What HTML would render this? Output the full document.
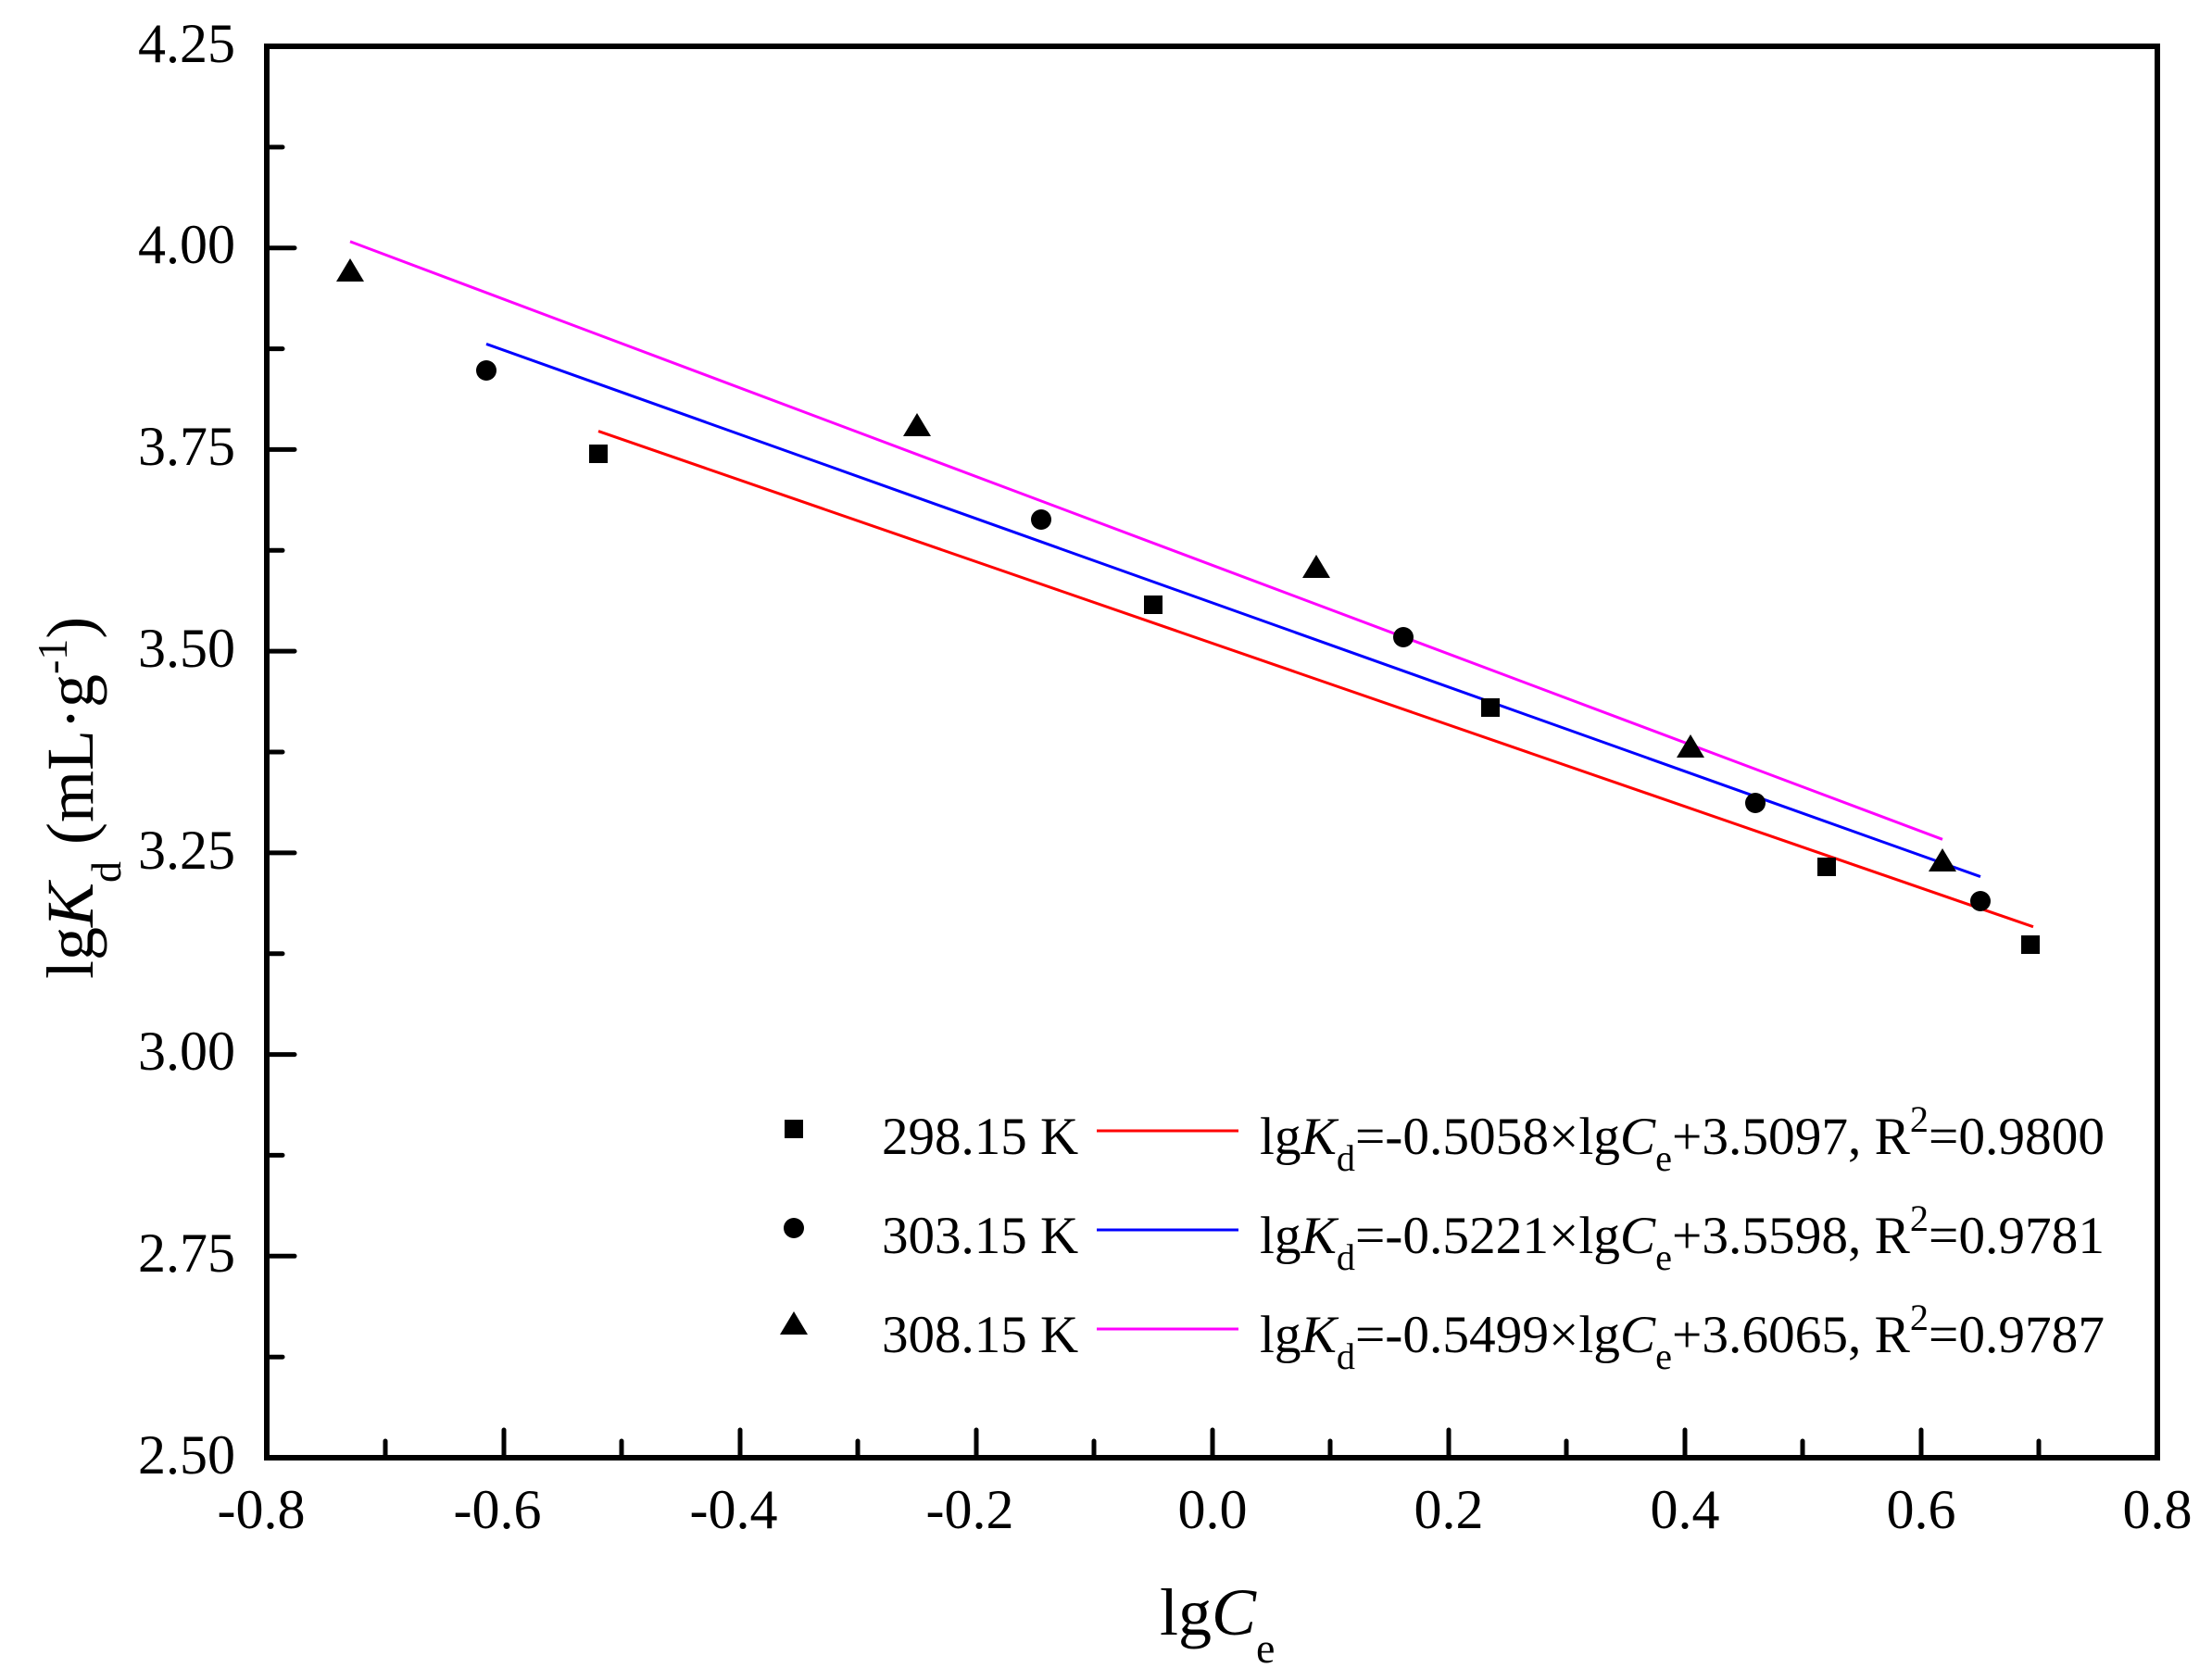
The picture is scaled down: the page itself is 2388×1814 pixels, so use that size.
<!DOCTYPE html>
<html><head><meta charset="utf-8"><style>html,body{margin:0;padding:0;background:#fff}svg{display:block}</style></head>
<body>
<svg width="2388" height="1814" viewBox="0 0 2388 1814" xmlns="http://www.w3.org/2000/svg" font-family="Liberation Serif, serif">
<rect width="2388" height="1814" fill="#fff"/>
<line x1="646" y1="465.6" x2="2195" y2="1000.7" stroke="#ff0000" stroke-width="3"/>
<line x1="525" y1="371.4" x2="2138" y2="946.6" stroke="#0000ff" stroke-width="3"/>
<line x1="378" y1="260.8" x2="2097" y2="906.3" stroke="#ff00ff" stroke-width="3"/>
<g fill="#000">
<rect x="636" y="480" width="20" height="20"/>
<rect x="1235" y="643" width="20" height="20"/>
<rect x="1599" y="754" width="20" height="20"/>
<rect x="1962" y="926" width="20" height="20"/>
<rect x="2182" y="1010" width="20" height="20"/>
<circle cx="525" cy="400" r="11"/>
<circle cx="1124" cy="561" r="11"/>
<circle cx="1515" cy="688" r="11"/>
<circle cx="1895" cy="867" r="11"/>
<circle cx="2138" cy="973" r="11"/>
<polygon points="378,279 393,304 363,304"/>
<polygon points="990,446 1005,471 975,471"/>
<polygon points="1421,599 1436,624 1406,624"/>
<polygon points="1825,793 1840,818 1810,818"/>
<polygon points="2097,916 2112,941 2082,941"/>
</g>
<rect x="288" y="50" width="2041" height="1524" fill="none" stroke="#000" stroke-width="6"/>
<g stroke="#000" stroke-width="5" stroke-linecap="round">
<line x1="288" y1="267.7" x2="318" y2="267.7"/><line x1="288" y1="485.4" x2="318" y2="485.4"/>
<line x1="288" y1="703.1" x2="318" y2="703.1"/><line x1="288" y1="920.9" x2="318" y2="920.9"/>
<line x1="288" y1="1138.6" x2="318" y2="1138.6"/><line x1="288" y1="1356.3" x2="318" y2="1356.3"/>
<line x1="288" y1="158.9" x2="305" y2="158.9"/><line x1="288" y1="376.6" x2="305" y2="376.6"/>
<line x1="288" y1="594.3" x2="305" y2="594.3"/><line x1="288" y1="812" x2="305" y2="812"/>
<line x1="288" y1="1029.7" x2="305" y2="1029.7"/><line x1="288" y1="1247.4" x2="305" y2="1247.4"/>
<line x1="288" y1="1465.2" x2="305" y2="1465.2"/>
<line x1="544" y1="1574" x2="544" y2="1544"/><line x1="799" y1="1574" x2="799" y2="1544"/>
<line x1="1054" y1="1574" x2="1054" y2="1544"/><line x1="1309" y1="1574" x2="1309" y2="1544"/>
<line x1="1564" y1="1574" x2="1564" y2="1544"/><line x1="1819" y1="1574" x2="1819" y2="1544"/>
<line x1="2074" y1="1574" x2="2074" y2="1544"/>
<line x1="416" y1="1574" x2="416" y2="1556"/><line x1="671" y1="1574" x2="671" y2="1556"/>
<line x1="926" y1="1574" x2="926" y2="1556"/><line x1="1181" y1="1574" x2="1181" y2="1556"/>
<line x1="1436" y1="1574" x2="1436" y2="1556"/><line x1="1691" y1="1574" x2="1691" y2="1556"/>
<line x1="1946" y1="1574" x2="1946" y2="1556"/><line x1="2201" y1="1574" x2="2201" y2="1556"/>
</g>
<g font-size="60" text-anchor="end">
<text x="254" y="67">4.25</text><text x="254" y="284">4.00</text>
<text x="254" y="502">3.75</text><text x="254" y="720">3.50</text>
<text x="254" y="938">3.25</text><text x="254" y="1155">3.00</text>
<text x="254" y="1373">2.75</text><text x="254" y="1591">2.50</text>
</g>
<g font-size="60" text-anchor="middle">
<text x="282" y="1650">-0.8</text><text x="537" y="1650">-0.6</text>
<text x="792" y="1650">-0.4</text><text x="1047" y="1650">-0.2</text>
<text x="1309" y="1650">0.0</text><text x="1564" y="1650">0.2</text>
<text x="1819" y="1650">0.4</text><text x="2074" y="1650">0.6</text>
<text x="2329" y="1650">0.8</text>
</g>
<text x="1252" y="1765" font-size="72">lg<tspan font-style="italic">C</tspan><tspan font-size="46" dy="30">e</tspan></text>
<text transform="translate(100,1057) rotate(-90)" font-size="72">lg<tspan font-style="italic">K</tspan><tspan font-size="46" dy="30">d</tspan><tspan dy="-30"> (mL·g</tspan><tspan font-size="46" dy="-28">-1</tspan><tspan dy="28">)</tspan></text>
<rect x="847" y="1209" width="20" height="20" fill="#000"/>
<circle cx="857" cy="1326" r="11" fill="#000"/>
<polygon points="857,1416 872,1441 842,1441" fill="#000"/>
<line x1="1184" y1="1221" x2="1337" y2="1221" stroke="#ff0000" stroke-width="3"/>
<line x1="1184" y1="1328" x2="1337" y2="1328" stroke="#0000ff" stroke-width="3"/>
<line x1="1184" y1="1435" x2="1337" y2="1435" stroke="#ff00ff" stroke-width="3"/>
<g font-size="57">
<text x="952" y="1246">298.15 K</text>
<text x="952" y="1353">303.15 K</text>
<text x="952" y="1460">308.15 K</text>
<text x="1360" y="1246" textLength="912" lengthAdjust="spacingAndGlyphs">lg<tspan font-style="italic">K</tspan><tspan font-size="40" dy="18">d</tspan><tspan dy="-18">=-0.5058×lg</tspan><tspan font-style="italic">C</tspan><tspan font-size="40" dy="18">e</tspan><tspan dy="-18">+3.5097, R</tspan><tspan font-size="40" dy="-24">2</tspan><tspan dy="24">=0.9800</tspan></text>
<text x="1360" y="1353" textLength="912" lengthAdjust="spacingAndGlyphs">lg<tspan font-style="italic">K</tspan><tspan font-size="40" dy="18">d</tspan><tspan dy="-18">=-0.5221×lg</tspan><tspan font-style="italic">C</tspan><tspan font-size="40" dy="18">e</tspan><tspan dy="-18">+3.5598, R</tspan><tspan font-size="40" dy="-24">2</tspan><tspan dy="24">=0.9781</tspan></text>
<text x="1360" y="1460" textLength="912" lengthAdjust="spacingAndGlyphs">lg<tspan font-style="italic">K</tspan><tspan font-size="40" dy="18">d</tspan><tspan dy="-18">=-0.5499×lg</tspan><tspan font-style="italic">C</tspan><tspan font-size="40" dy="18">e</tspan><tspan dy="-18">+3.6065, R</tspan><tspan font-size="40" dy="-24">2</tspan><tspan dy="24">=0.9787</tspan></text>
</g>
</svg>
</body></html>
